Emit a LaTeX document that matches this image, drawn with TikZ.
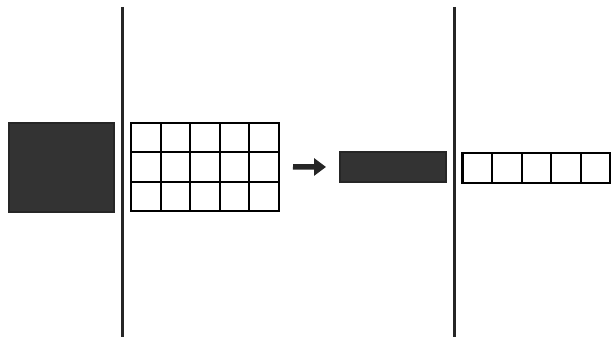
\documentclass[tikz,border=0pt]{standalone}
\usepackage{tikz}
\usetikzlibrary{arrows.meta,positioning}

\begin{document}
\begin{tikzpicture}[
  x=0.02cm, y=-0.02cm,
  block/.style={draw=black!85, fill=black!80, line width=0.8pt, inner sep=0pt, outer sep=0pt},
  cell/.style={draw, line width=1.2pt, minimum width=0.592cm, minimum height=0.586cm, inner sep=0pt, outer sep=0pt},
  divider/.style={line width=1.5pt, black!85},
  arrow/.style={-{Triangle[length=0.24cm,width=0.34cm]}, line width=0.11cm, black!85}
]
  \useasboundingbox (0,0) rectangle (611,337);

  % Dividers
  \draw[divider] (122.5,7) -- (122.5,337);
  \draw[divider] (454.5,7) -- (454.5,337);

  % Full block and its grid
  \node[block, minimum width=2.1cm, minimum height=1.78cm] (full) at (61.5,167.5) {};
  \foreach \i in {1,2,3}
    \foreach \j in {1,...,5}
      \node[cell] (c-\i-\j) at ({131+(\j-0.5)*29.6},{123+(\i-0.5)*29.3}) {};

  % Reduced block and its row
  \node[block, minimum width=2.12cm, minimum height=0.6cm] (bar) at (393,167) {};
  \foreach \j in {1,...,5}
    \node[cell, minimum height=0.6cm] (r-\j) at ({462.5+(\j-0.5)*29.6},168) {};

  % Arrow
  \draw[arrow, shorten <=0.28cm, shorten >=0.28cm] (c-2-5.east) -- (bar.west);
\end{tikzpicture}
\end{document}
